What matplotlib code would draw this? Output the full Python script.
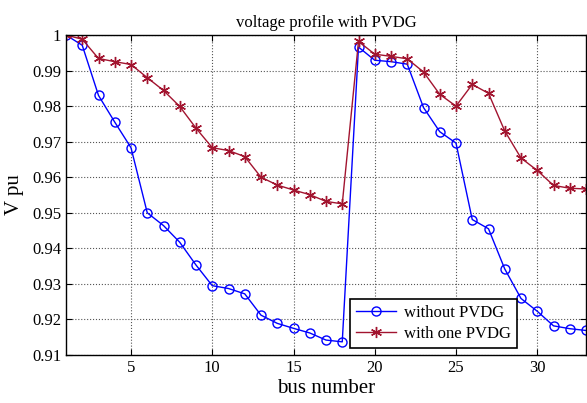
import numpy as np
import matplotlib
matplotlib.use("Agg")
import matplotlib.pyplot as plt

plt.rcParams['font.family'] = ['Liberation Serif', 'DejaVu Serif']

bus = list(range(1, 34))

without_pvdg = [1.0000, 0.9971, 0.9830, 0.9755, 0.9683, 0.9500, 0.9464, 0.9417,
                0.9353, 0.9295, 0.9287, 0.9272, 0.9212, 0.9189, 0.9175, 0.9162,
                0.9142, 0.9137, 0.9966, 0.9929, 0.9925, 0.9918, 0.9796, 0.9728,
                0.9696, 0.9481, 0.9455, 0.9342, 0.9259, 0.9223, 0.9182, 0.9174,
                0.9169]

with_one_pvdg = [1.0000, 0.9988, 0.9934, 0.9925, 0.9917, 0.9880, 0.9844, 0.9799,
                 0.9738, 0.9683, 0.9675, 0.9658, 0.9600, 0.9578, 0.9564, 0.9551,
                 0.9532, 0.9525, 0.9982, 0.9946, 0.9940, 0.9933, 0.9896, 0.9833,
                 0.9800, 0.9861, 0.9836, 0.9730, 0.9654, 0.9619, 0.9577, 0.9569,
                 0.9567]

yticks = [0.91, 0.92, 0.93, 0.94, 0.95, 0.96, 0.97, 0.98, 0.99, 1.0]
ytick_labels = ['0.91', '0.92', '0.93', '0.94', '0.95', '0.96', '0.97', '0.98', '0.99', '1']
xticks = [5, 10, 15, 20, 25, 30]

fig = plt.figure(figsize=(5.87, 4.03), dpi=100)
ax = fig.add_axes([66 / 587, 1 - 355 / 403, 520 / 587, 320 / 403])

ax.plot(bus, without_pvdg, color='#0000FF', linewidth=1.0, marker='o',
        markersize=6.5, markerfacecolor='none', markeredgewidth=1.0,
        label='without PVDG')
# MATLAB style asterisk marker
ax.plot(bus, with_one_pvdg, color='#A2142F', linewidth=1.0, marker=(6, 2, 0),
        markersize=8, markeredgewidth=1.0, label='with one PVDG')

ax.set_xlim(1, 33)
ax.set_ylim(0.91, 1.0)
ax.set_xticks(xticks)
ax.set_yticks(yticks)
ax.set_yticklabels(ytick_labels)
ax.tick_params(direction='in', top=True, right=True, labelsize=12, length=4)
ax.grid(True, linestyle=':', color='#555555', linewidth=0.8)
for s in ax.spines.values():
    s.set_linewidth(1.0)

ax.set_title('voltage profile with PVDG', fontsize=12, pad=6)
ax.set_xlabel('bus number', fontsize=15, labelpad=2)
ax.set_ylabel('V pu', fontsize=15, labelpad=6)

leg = ax.legend(loc='lower left', bbox_to_anchor=(0.546, 0.022), borderaxespad=0,
                fontsize=12, fancybox=False, framealpha=1, edgecolor='black',
                handlelength=2.4, handletextpad=0.5, borderpad=0.35,
                labelspacing=0.3)
leg.get_frame().set_linewidth(1.2)

fig.savefig('out.png', dpi=100)
